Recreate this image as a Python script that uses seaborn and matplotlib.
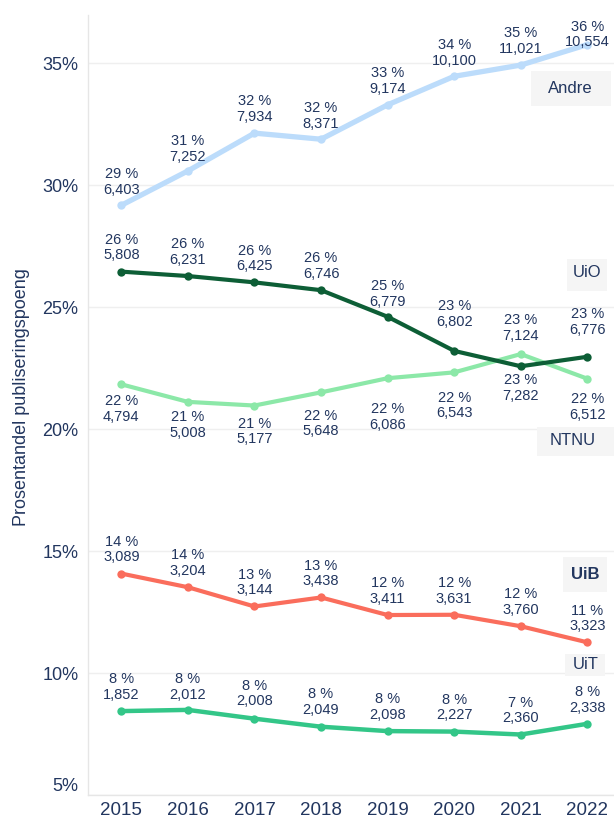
import matplotlib
matplotlib.use("Agg")
import matplotlib.pyplot as plt
import matplotlib.patches as mpatches
import pandas as pd
import seaborn as sns

# data
years = [2015, 2016, 2017, 2018, 2019, 2020, 2021, 2022]
institutions = ["Andre", "UiO", "NTNU", "UiB", "UiT"]

andre_count = [6403, 7252, 7934, 8371, 9174, 10100, 11021, 10554]
uio_count = [5808, 6231, 6425, 6746, 6779, 6802, 7124, 6776]
ntnu_count = [4794, 5008, 5177, 5648, 6086, 6543, 7282, 6512]
uib_count = [3089, 3204, 3144, 3438, 3411, 3631, 3760, 3323]
uit_count = [1852, 2012, 2008, 2049, 2098, 2227, 2360, 2338]

andre_share = [29.18, 30.59, 32.14, 31.89, 33.30, 34.47, 34.93, 35.77]
uio_share = [26.46, 26.28, 26.02, 25.70, 24.61, 23.21, 22.58, 22.97]
ntnu_share = [21.84, 21.12, 20.97, 21.51, 22.09, 22.33, 23.08, 22.07]
uib_share = [14.08, 13.52, 12.73, 13.10, 12.38, 12.39, 11.92, 11.26]
uit_share = [8.44, 8.49, 8.13, 7.80, 7.62, 7.60, 7.48, 7.92]

andre_pct = [29, 31, 32, 32, 33, 34, 35, 36]
uio_pct = [26, 26, 26, 26, 25, 23, 23, 23]
ntnu_pct = [22, 21, 21, 22, 22, 22, 23, 22]
uib_pct = [14, 14, 13, 13, 12, 12, 12, 11]
uit_pct = [8, 8, 8, 8, 8, 8, 7, 8]

counts = {"Andre": andre_count, "UiO": uio_count, "NTNU": ntnu_count, "UiB": uib_count, "UiT": uit_count}
shares = {"Andre": andre_share, "UiO": uio_share, "NTNU": ntnu_share, "UiB": uib_share, "UiT": uit_share}
pcts = {"Andre": andre_pct, "UiO": uio_pct, "NTNU": ntnu_pct, "UiB": uib_pct, "UiT": uit_pct}

rows = []
for inst in institutions:
    for i, yr in enumerate(years):
        rows.append({"year": yr, "inst": inst, "share": shares[inst][i],
                     "count": counts[inst][i], "pct": pcts[inst][i]})
df = pd.DataFrame(rows)

# styling
colors = {"Andre": "#bcdcfb", "UiO": "#0d5e36", "NTNU": "#8ce8a8", "UiB": "#fa6d5c", "UiT": "#33c688"}
widths = {"Andre": 3.8, "UiO": 3.0, "NTNU": 3.0, "UiB": 3.0, "UiT": 3.2}
# vertical label offsets in pixels (positive = above the point)
offsets = {
    "Andre": [23, 22, 24, 23, 24, 23, 24, 10],
    "UiO": [24, 24, 24, 24, 23, 37, 38, 35],
    "NTNU": [-25, -23, -26, -31, -39, -33, -34, -28],
    "UiB": [24, 24, 24, 24, 24, 24, 24, 24],
    "UiT": [24, 23, 25, 25, 24, 24, 24, 24],
}
# name tags: text centre and box (x0, y0, w, h) in data units
tags = {
    "Andre": ((2021.75, 33.96), (2021.16, 33.24, 1.19, 1.43), "normal"),
    "UiO": ((2022.0, 26.43), (2021.69, 25.66, 0.61, 1.31), "normal"),
    "NTNU": ((2021.78, 19.55), (2021.24, 18.89, 1.2, 1.19), "normal"),
    "UiB": ((2021.97, 14.06), (2021.64, 13.32, 0.66, 1.43), "bold"),
    "UiT": ((2021.97, 10.37), (2021.66, 9.88, 0.61, 0.90), "normal"),
}
navy = "#22365f"

sns.set_theme(style="white")
plt.rcParams["font.family"] = ["Liberation Sans", "DejaVu Sans"]

fig = plt.figure(figsize=(6.14, 8.21), dpi=100)
ax = fig.add_axes([88 / 614, 26 / 821, 526 / 614, 780.4 / 821])

for inst in ["Andre", "NTNU", "UiO", "UiB", "UiT"]:
    sub = df[df["inst"] == inst]
    sns.lineplot(data=sub, x="year", y="share", ax=ax, color=colors[inst],
                 linewidth=widths[inst], marker="o", markersize=6,
                 markeredgewidth=0, solid_capstyle="round", zorder=3)
    for i, r in enumerate(sub.itertuples()):
        ax.annotate(f"{r.pct} %\n{r.count:,}", (r.year, r.share),
                    xytext=(0, offsets[inst][i]), textcoords="offset pixels",
                    ha="center", va="center", fontsize=10.5, color=navy,
                    linespacing=1.15, zorder=4)

for inst, (pos, box, weight) in tags.items():
    ax.add_patch(mpatches.Rectangle((box[0], box[1]), box[2], box[3],
                                    facecolor="#f5f5f5", edgecolor="none",
                                    zorder=1, clip_on=False))
    ax.text(pos[0], pos[1], inst, ha="center", va="center", fontsize=12,
            color=navy, fontweight=weight, zorder=2)

ax.set_xlim(2014.5, 2022.4)
ax.set_ylim(5, 37)
ax.set_xticks(years)
ax.set_xticklabels([str(y) for y in years])
ax.set_xticks([y + 0.5 for y in years[:-1]], minor=True)
ax.set_yticks([5, 10, 15, 20, 25, 30, 35])
ax.set_yticklabels(["5%", "10%", "15%", "20%", "25%", "30%", "35%"])
ax.get_yticklabels()[0].set_va("bottom")

ax.grid(axis="y", color="#efefef", linewidth=1.0, zorder=0)
ax.grid(axis="x", visible=False)
for side in ["top", "right"]:
    ax.spines[side].set_visible(False)
for side in ["left", "bottom"]:
    ax.spines[side].set_color("#e6e6e6")
    ax.spines[side].set_linewidth(1.0)

ax.tick_params(axis="x", which="major", length=0, pad=5, labelsize=13.5, labelcolor=navy)
ax.tick_params(axis="x", which="minor", length=4, width=1, color="#e6e6e6")
ax.tick_params(axis="y", length=0, pad=7, labelsize=13, labelcolor=navy)

ax.set_xlabel("")
ax.set_ylabel("Prosentandel publiseringspoeng", fontsize=13, color=navy)
ax.yaxis.set_label_coords(-0.111, 0.51)

fig.savefig("out.png", dpi=100)
